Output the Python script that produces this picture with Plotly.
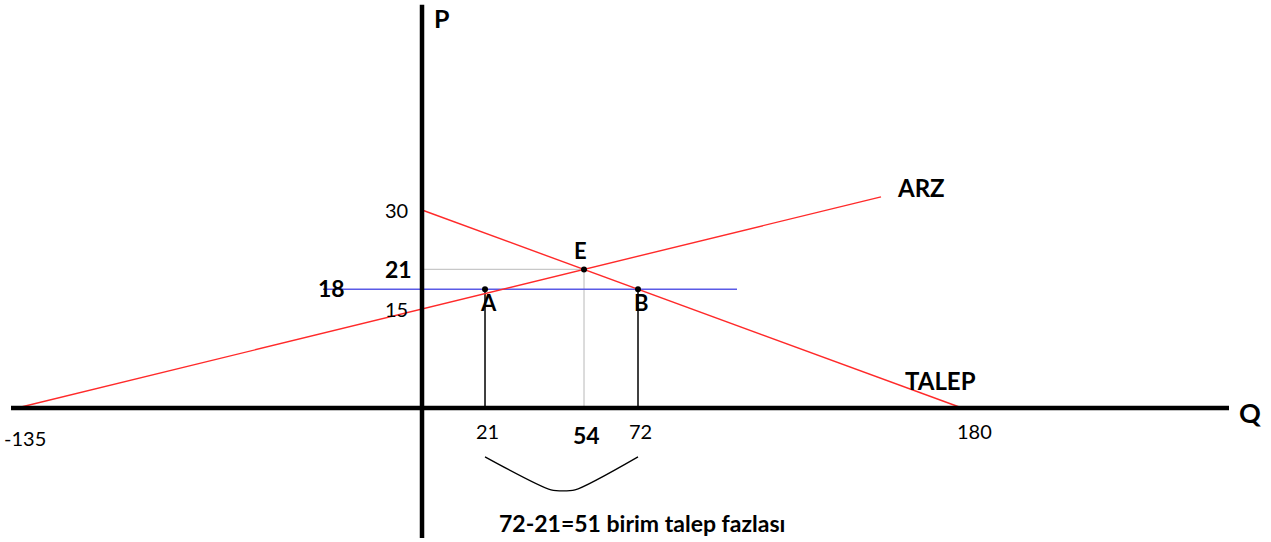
import plotly.graph_objects as go

# Supply (ARZ) and demand (TALEP) schedules
supply_q = [-135, 0, 54, 153]
supply_p = [0, 15, 21, 32]
demand_q = [0, 54, 72, 180]
demand_p = [30, 21, 18, 0]

# Price floor at P = 18
floor_p = 18
floor_q = [-33, 105]

# Equilibrium E and the two quantities at the floor price (A: supply side, B: demand side)
point_names = ["A", "E", "B"]
point_q = [21, 54, 72]
point_p = [18, 21, 18]
eq_q, eq_p = 54, 21

# Axis value labels: (value, bold)
price_labels = [(30, False), (21, True), (18, True), (15, False)]
qty_labels = [(-135, False), (21, False), (54, True), (72, False), (180, False)]

# Brace under the 21..72 gap
brace_q = [21, 43, 51, 72]
brace_p = [-7.4, -12.4, -12.4, -7.4]
gap_text = "72-21=51 birim talep fazlası"

FONT = "Lato, Open Sans, sans-serif"
RED = "#ff2a2a"
BLUE = "#5a5ae6"
GRAY = "#c8c8c8"

fig = go.Figure()

# Guide lines from E to the axes
fig.add_trace(go.Scatter(x=[0, eq_q], y=[eq_p, eq_p], mode="lines",
                         line=dict(color=GRAY, width=1.3), hoverinfo="skip"))
fig.add_trace(go.Scatter(x=[eq_q, eq_q], y=[0, eq_p], mode="lines",
                         line=dict(color=GRAY, width=1.3), hoverinfo="skip"))

# Drop lines from A and B
for q in (point_q[0], point_q[2]):
    fig.add_trace(go.Scatter(x=[q, q], y=[0, floor_p], mode="lines",
                             line=dict(color="black", width=1.5), hoverinfo="skip"))

# Price floor
fig.add_trace(go.Scatter(x=floor_q, y=[floor_p, floor_p], mode="lines",
                         line=dict(color=BLUE, width=1.5), hoverinfo="skip"))

# Supply and demand
fig.add_trace(go.Scatter(x=supply_q, y=supply_p, mode="lines",
                         line=dict(color=RED, width=1.4), name="ARZ"))
fig.add_trace(go.Scatter(x=demand_q, y=demand_p, mode="lines",
                         line=dict(color=RED, width=1.4), name="TALEP"))

# Points A, E, B
fig.add_trace(go.Scatter(x=point_q, y=point_p, mode="markers",
                         marker=dict(color="black", size=6, symbol="circle"),
                         hoverinfo="skip"))

# Brace
fig.add_trace(go.Scatter(x=brace_q, y=brace_p, mode="lines",
                         line=dict(color="black", width=1.3, shape="spline", smoothing=0.6),
                         hoverinfo="skip"))

x_range = [-140.67, 283]
y_range = [-20.3, 61.82]

# Thick coordinate axes
fig.add_shape(type="line", x0=0, x1=0, y0=-19.7, y1=61.1,
              line=dict(color="black", width=4.5))
fig.add_shape(type="line", x0=-137, x1=269, y0=0, y1=0,
              line=dict(color="black", width=4.5))

ann = []


def label(text, x, y, size, bold=False, xanchor="center", yanchor="middle", xshift=0, yshift=0):
    ann.append(dict(x=x, y=y, text=f"<b>{text}</b>" if bold else text, showarrow=False,
                    xanchor=xanchor, yanchor=yanchor, xshift=xshift, yshift=yshift,
                    font=dict(family=FONT, size=size, color="black")))


# Price labels left of the vertical axis
for p, b in price_labels:
    if p == floor_p:
        label(p, floor_q[0], p, 23, b, xanchor="left", xshift=-7, yshift=1)
    else:
        label(p, 0, p, 23 if b else 20, b, xanchor="right", xshift=-8 if b else -12)

# Quantity labels below the horizontal axis
for q, b in qty_labels:
    xs = 8 if q == -135 else (12 if q == 180 else 2)
    ys = -16 if q == -135 else (-11 if b else -9)
    label(q, q, 0, 23 if b else 20, b, yanchor="top", xshift=xs, yshift=ys)

# Point names
for n, q, p in zip(point_names, point_q, point_p):
    if n == "E":
        label(n, q, p, 22, True, yanchor="bottom", xshift=-4, yshift=3)
    else:
        label(n, q, p, 22, True, yanchor="top", xshift=3, yshift=2)

# Curve names
label("ARZ", supply_q[-1], supply_p[-1], 24, True, xanchor="left", xshift=14, yshift=9)
label("TALEP", demand_q[-1], demand_p[-1], 24, True, xshift=-22, yshift=28)

# Axis titles
label("P", 0, 59.1, 25, True, xanchor="left", xshift=10)
label("Q", 276, 0, 27, True, yshift=-4)

# Excess demand note
label(gap_text, 25, -17.4, 23, True, xanchor="left")

fig.update_layout(
    width=1271, height=542,
    margin=dict(l=0, r=0, t=0, b=0),
    paper_bgcolor="white", plot_bgcolor="white",
    showlegend=False,
    xaxis=dict(range=x_range, visible=False, fixedrange=True),
    yaxis=dict(range=y_range, visible=False, fixedrange=True),
    annotations=ann,
)

fig.write_html("out.html")
